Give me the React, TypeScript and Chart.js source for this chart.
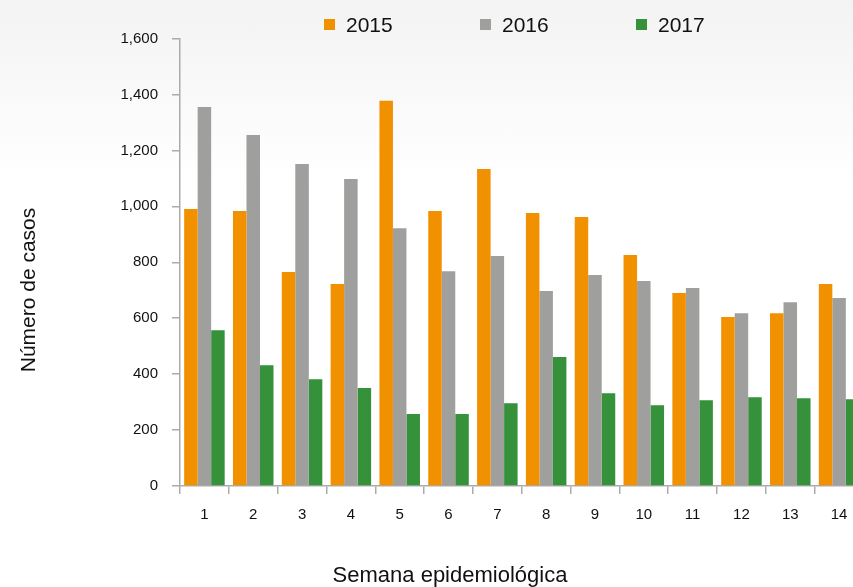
import React, { useEffect, useRef } from "react";
import { Chart, registerables } from "chart.js";

Chart.register(...registerables);

const weeks = ["1", "2", "3", "4", "5", "6", "7", "8", "9", "10", "11", "12", "13", "14"];
const series2015 = [990, 983, 765, 722, 1377, 983, 1133, 976, 962, 826, 690, 604, 618, 722];
const series2016 = [1355, 1255, 1151, 1098, 922, 768, 822, 697, 754, 733, 708, 618, 657, 672];
const series2017 = [557, 432, 382, 350, 257, 257, 296, 461, 332, 289, 307, 317, 314, 310];
const seriesNames = ["2015", "2016", "2017"];
const seriesColors = ["#F29100", "#9F9F9E", "#35913A"];
const yTicksMax = 1600;
const yStep = 200;
const yTitle = "Número de casos";
const xTitle = "Semana epidemiológica";

const FONT = '"Liberation Sans", Arial, sans-serif';

const CANVAS_W = 880;
const CANVAS_H = 587;

const textPlugin = {
  id: "customTexts",
  afterDraw(chart: any) {
    const ctx = chart.ctx;
    const area = chart.chartArea;
    ctx.save();
    // legend
    ctx.font = `21px ${FONT}`;
    ctx.textBaseline = "alphabetic";
    ctx.textAlign = "left";
    const startX = area.left + 144;
    const step = 156;
    seriesNames.forEach((name, i) => {
      const x = startX + i * step;
      ctx.fillStyle = seriesColors[i];
      ctx.fillRect(x, 19, 11, 11);
      ctx.fillStyle = "#111111";
      ctx.fillText(name, x + 22, 31.5);
    });
    // x title
    ctx.font = `22px ${FONT}`;
    ctx.textAlign = "center";
    ctx.fillStyle = "#111111";
    ctx.fillText(xTitle, area.left + 270, 581.5);
    // y title
    ctx.font = `21px ${FONT}`;
    ctx.translate(35, 290);
    ctx.rotate(-Math.PI / 2);
    ctx.textAlign = "center";
    ctx.fillText(yTitle, 0, 0);
    ctx.restore();
  },
};

export default function App() {
  const canvasRef = useRef<HTMLCanvasElement | null>(null);

  useEffect(() => {
    if (!canvasRef.current) return;
    const axisColor = "#ABABAB";
    const chart = new Chart(canvasRef.current, {
      type: "bar",
      data: {
        labels: weeks,
        datasets: [series2015, series2016, series2017].map((d, i) => ({
          label: seriesNames[i],
          data: d,
          backgroundColor: seriesColors[i],
          borderWidth: 0,
          categoryPercentage: 0.83,
          barPercentage: 1.0,
        })),
      },
      options: {
        responsive: false,
        animation: false,
        layout: { padding: { top: 38.5, left: 0, right: CANVAS_W - 863.5, bottom: 0 } },
        plugins: {
          legend: { display: false },
          tooltip: { enabled: false },
          title: { display: false },
        },
        scales: {
          x: {
            grid: {
              display: true,
              drawOnChartArea: false,
              offset: true,
              tickLength: 8,
              color: axisColor,
              lineWidth: 1.5,
            },
            border: { color: axisColor, width: 1.5 },
            ticks: {
              font: { family: FONT, size: 15 },
              color: "#111111",
              padding: 12,
              maxRotation: 0,
              autoSkip: false,
            },
            afterFit: (s: any) => {
              s.height = 101;
            },
          },
          y: {
            min: 0,
            max: yTicksMax,
            grid: {
              display: true,
              drawOnChartArea: false,
              tickLength: 8,
              color: axisColor,
              lineWidth: 1.5,
            },
            border: { color: axisColor, width: 1.5 },
            ticks: {
              stepSize: yStep,
              font: { family: FONT, size: 15 },
              color: "#111111",
              padding: 14,
              callback: (v: any) => String(v).replace(/\B(?=(\d{3})+(?!\d))/g, ","),
            },
            afterFit: (s: any) => {
              s.width = 180;
            },
          },
        },
      },
      plugins: [textPlugin],
    });
    return () => chart.destroy();
  }, []);

  return (
    <div
      style={{
        position: "fixed",
        left: 0,
        top: 0,
        width: 853,
        height: 587,
        overflow: "hidden",
        background: "linear-gradient(#f3f3f3 0px, #f9f9f9 90px, #ffffff 180px, #ffffff 100%)",
      }}
    >
      <canvas
        ref={canvasRef}
        width={CANVAS_W}
        height={CANVAS_H}
        style={{ display: "block", width: CANVAS_W, height: CANVAS_H }}
      />
    </div>
  );
}
